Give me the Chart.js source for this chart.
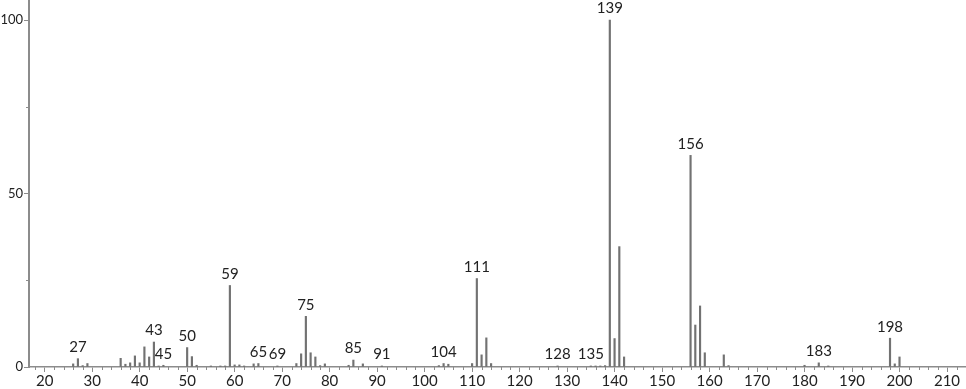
<!DOCTYPE html>
<html>
<head>
<meta charset="utf-8">
<script src="https://cdn.jsdelivr.net/npm/chart.js@4.4.1/dist/chart.umd.min.js"></script>
<style>
  html, body { margin: 0; padding: 0; background: #fff; }
  #wrap { width: 966px; height: 389px; }
</style>
</head>
<body>
<div id="wrap"><canvas id="spec"></canvas></div>
<script>
// m/z values and relative intensities
const mz = [26, 27, 28, 29, 36, 37, 38, 39, 40, 41, 42, 43, 44, 45, 50, 51, 52, 55, 57, 58,
            59, 60, 61, 62, 64, 65, 69, 73, 74, 75, 76, 77, 78, 79, 84, 85, 87, 91,
            103, 104, 105, 110, 111, 112, 113, 114, 128, 135, 136, 137, 138, 139, 140, 141, 142,
            156, 157, 158, 159, 163, 164, 180, 183, 185, 198, 199, 200];
const intensity = [0.9, 2.4, 0.4, 1.0, 2.5, 0.8, 1.2, 3.2, 1.2, 5.8, 2.9, 7.2, 0.3, 0.5, 5.6, 3.0, 0.5, 0.3, 0.3, 0.3,
                   23.5, 0.6, 0.6, 0.3, 0.9, 1.0, 0.3, 1.0, 3.8, 14.6, 4.1, 2.9, 0.4, 0.9, 0.5, 2.0, 0.9, 0.3,
                   0.4, 1.0, 0.8, 1.0, 25.5, 3.5, 8.4, 1.0, 0.3, 0.3, 0.3, 0.3, 0.4, 100, 8.2, 34.7, 2.9,
                   61.0, 12.1, 17.6, 4.1, 3.5, 0.4, 0.5, 1.2, 0.3, 8.3, 0.9, 2.9];
const labeledPeaks = [27, 43, 45, 50, 59, 65, 69, 75, 85, 91, 104, 111, 128, 135, 139, 156, 183, 198];
const xTickLabels = [20, 30, 40, 50, 60, 70, 80, 90, 100, 110, 120, 130, 140, 150, 160, 170, 180, 190, 200, 210];
const yTickLabels = [0, 50, 100];

const FAMILY = 'Lato, "DejaVu Sans", sans-serif';
const AXIS = '#8c8c8c';

// draws the short minor ticks and the m/z labels above the marked peaks
const peakLabels = {
  id: 'peakLabels',
  afterDraw(chart) {
    const ctx = chart.ctx;
    const xs = chart.scales.x, ys = chart.scales.y;
    ctx.save();
    ctx.strokeStyle = AXIS;
    ctx.lineWidth = 1;
    xs.ticks.forEach(t => {
      if (xTickLabels.includes(t.value)) return;
      const px = Math.round(xs.getPixelForValue(t.value)) + 0.5;
      ctx.beginPath();
      ctx.moveTo(px, ys.bottom);
      ctx.lineTo(px, ys.bottom + 3);
      ctx.stroke();
    });
    ys.ticks.forEach(t => {
      if (yTickLabels.includes(t.value)) return;
      const py = Math.round(ys.getPixelForValue(t.value)) + 0.5;
      ctx.beginPath();
      ctx.moveTo(xs.left, py);
      ctx.lineTo(xs.left - 3, py);
      ctx.stroke();
    });
    ctx.font = '15px ' + FAMILY;
    ctx.fillStyle = '#222';
    ctx.textAlign = 'center';
    ctx.textBaseline = 'bottom';
    labeledPeaks.forEach(m => {
      const i = mz.indexOf(m);
      ctx.fillText(String(m), xs.getPixelForValue(m), ys.getPixelForValue(intensity[i]) - 4);
    });
    ctx.restore();
  }
};

new Chart(document.getElementById('spec'), {
  type: 'bar',
  data: {
    datasets: [{
      data: mz.map((m, i) => ({ x: m, y: intensity[i] })),
      backgroundColor: '#727272',
      barThickness: 1.5,
      grouped: false
    }]
  },
  options: {
    responsive: true,
    maintainAspectRatio: false,
    animation: false,
    layout: { padding: { top: 1, right: 0, left: 0, bottom: 0 } },
    plugins: { legend: { display: false }, tooltip: { enabled: false } },
    scales: {
      x: {
        type: 'linear',
        min: 16.7,
        max: 214,
        offset: false,
        afterFit(scale) { scale.height = 22; scale.paddingLeft = 0; scale.paddingRight = 0; },
        border: { color: AXIS, width: 1.5 },
        grid: {
          drawOnChartArea: false,
          offset: false,
          tickLength: 5,
          tickColor: c => (c.tick && xTickLabels.includes(c.tick.value)) ? AXIS : 'rgba(0,0,0,0)'
        },
        ticks: {
          stepSize: 2,
          includeBounds: false,
          autoSkip: false,
          maxRotation: 0,
          padding: 0,
          color: '#222',
          font: { family: FAMILY, size: 15 },
          callback: v => xTickLabels.includes(v) ? String(v) : ''
        }
      },
      y: {
        min: 0,
        max: 105.5,
        afterFit(scale) { scale.width = 29; scale.paddingTop = 0; scale.paddingBottom = 0; },
        border: { color: AXIS, width: 2 },
        grid: {
          drawOnChartArea: false,
          tickLength: 5,
          tickColor: c => (c.tick && yTickLabels.includes(c.tick.value)) ? AXIS : 'rgba(0,0,0,0)'
        },
        ticks: {
          stepSize: 25,
          includeBounds: false,
          padding: 1,
          color: '#222',
          font: { family: FAMILY, size: 13 },
          callback: v => yTickLabels.includes(v) ? String(v) : ''
        }
      }
    }
  },
  plugins: [peakLabels]
});
</script>
</body>
</html>
